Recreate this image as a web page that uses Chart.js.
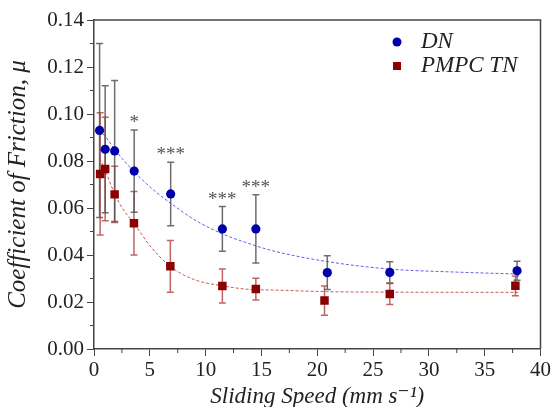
<!DOCTYPE html>
<html>
<head>
<meta charset="utf-8">
<script src="https://cdn.jsdelivr.net/npm/chart.js@4.4.1/dist/chart.umd.min.js"></script>
<style>
	html, body { margin: 0; padding: 0; background: #fff; }
	canvas { display: block; }
</style>
</head>
<body>
<canvas id="frictionChart" width="553" height="407"></canvas>
<script>
// measured points
const dnSpeed = [0.5, 1.0, 1.85, 3.6, 6.87, 11.5, 14.5, 20.9, 26.5, 37.9];
const dnMu = [0.093, 0.085, 0.0843, 0.0757, 0.066, 0.0511, 0.0511, 0.0325, 0.0326, 0.0333];
const dnErr = [0.037, 0.027, 0.03, 0.0175, 0.0135, 0.0095, 0.0145, 0.0072, 0.0045, 0.004];
const dnSig = ["", "", "", "*", "***", "***", "***", "", "", ""];

const tnSpeed = [0.55, 1.0, 1.85, 3.58, 6.84, 11.5, 14.5, 20.65, 26.5, 37.75];
const tnMu = [0.0745, 0.0766, 0.0658, 0.0535, 0.0352, 0.0268, 0.0255, 0.0206, 0.0234, 0.0269];
const tnErr = [0.026, 0.022, 0.012, 0.0135, 0.011, 0.0072, 0.0046, 0.0062, 0.0045, 0.0042];

// fitted curves
const dnFitSpeed = [0.5, 1, 1.85, 2.9, 4, 5.5, 6.87, 9, 11.5, 13.8, 16, 20.9, 26.5, 32, 38];
const dnFitMu = [0.093, 0.0905, 0.085, 0.079, 0.0735, 0.067, 0.062, 0.055, 0.049, 0.045, 0.0418, 0.0372, 0.034, 0.0328, 0.0319];
const tnFitSpeed = [0.5, 1, 1.85, 2.6, 3.58, 5, 6.87, 9, 11.5, 13.8, 16, 20.9, 26.5, 38];
const tnFitMu = [0.081, 0.076, 0.066, 0.0595, 0.0535, 0.044, 0.035, 0.0295, 0.0269, 0.0254, 0.0251, 0.0244, 0.0242, 0.0241];

const xTicks = [0, 5, 10, 15, 20, 25, 30, 35, 40];
const yTicks = [0, 0.02, 0.04, 0.06, 0.08, 0.1, 0.12, 0.14];

const serif = "'Liberation Serif', 'DejaVu Serif', serif";
const axisCol = "#444";

function toPoints(xs, ys) {
	return xs.map((x, i) => ({ x: x, y: ys[i] }));
}

function isMajor(v, list) {
	return list.some((t) => Math.abs(t - v) < 1e-9);
}

// error bars, significance stars, frame, minor ticks, legend
const extras = {
	id: "extras",
	beforeDatasetsDraw(chart) {
		const { ctx, scales } = chart;
		const bars = [
			{ xs: tnSpeed, ys: tnMu, es: tnErr, col: "rgba(170,50,50,0.75)" },
			{ xs: dnSpeed, ys: dnMu, es: dnErr, col: "rgba(85,85,85,0.85)" },
		];
		ctx.save();
		ctx.lineWidth = 1.5;
		bars.forEach((b) => {
			ctx.strokeStyle = b.col;
			b.xs.forEach((x, i) => {
				const px = scales.x.getPixelForValue(x);
				const top = scales.y.getPixelForValue(b.ys[i] + b.es[i]);
				const bot = scales.y.getPixelForValue(b.ys[i] - b.es[i]);
				ctx.beginPath();
				ctx.moveTo(px, top);
				ctx.lineTo(px, bot);
				ctx.moveTo(px - 3.5, top);
				ctx.lineTo(px + 3.5, top);
				ctx.moveTo(px - 3.5, bot);
				ctx.lineTo(px + 3.5, bot);
				ctx.stroke();
			});
		});
		ctx.restore();
	},
	afterDraw(chart) {
		const { ctx, scales, chartArea } = chart;
		ctx.save();
		// stars
		ctx.fillStyle = "#555";
		ctx.font = "19px " + serif;
		ctx.textAlign = "center";
		ctx.textBaseline = "middle";
		dnSig.forEach((s, i) => {
			if (!s) return;
			const px = scales.x.getPixelForValue(dnSpeed[i]);
			const py = scales.y.getPixelForValue(dnMu[i] + dnErr[i]);
			ctx.fillText(s, px, py - 7);
		});
		// frame top/right
		ctx.strokeStyle = axisCol;
		ctx.lineWidth = 1.5;
		ctx.beginPath();
		ctx.moveTo(chartArea.left, chartArea.top);
		ctx.lineTo(chartArea.right, chartArea.top);
		ctx.lineTo(chartArea.right, chartArea.bottom);
		ctx.stroke();
		// minor ticks
		ctx.lineWidth = 1;
		scales.x.ticks.forEach((t) => {
			if (isMajor(t.value, xTicks)) return;
			const px = scales.x.getPixelForValue(t.value);
			ctx.beginPath();
			ctx.moveTo(px, chartArea.bottom);
			ctx.lineTo(px, chartArea.bottom + 4);
			ctx.stroke();
		});
		scales.y.ticks.forEach((t) => {
			if (isMajor(t.value, yTicks)) return;
			const py = scales.y.getPixelForValue(t.value);
			ctx.beginPath();
			ctx.moveTo(chartArea.left, py);
			ctx.lineTo(chartArea.left - 4, py);
			ctx.stroke();
		});
		// legend
		ctx.fillStyle = "#0000aa";
		ctx.beginPath();
		ctx.arc(397, 42, 4.5, 0, Math.PI * 2);
		ctx.fill();
		ctx.fillStyle = "#8b0000";
		ctx.fillRect(393, 62, 8, 8);
		ctx.fillStyle = "#222";
		ctx.font = "italic 23px " + serif;
		ctx.textAlign = "left";
		ctx.fillText("DN", 421, 42);
		ctx.fillText("PMPC TN", 421, 66);
		ctx.restore();
	},
};

const ctx = document.getElementById("frictionChart");
const config = {
	type: "scatter",
	data: {
		datasets: [
			{
				label: "DN",
				data: toPoints(dnSpeed, dnMu),
				backgroundColor: "#0000aa",
				borderColor: "#0000aa",
				pointStyle: "circle",
				pointRadius: 4.6,
				borderWidth: 0,
				order: 0,
			},
			{
				label: "PMPC TN",
				data: toPoints(tnSpeed, tnMu),
				backgroundColor: "#8b0000",
				borderColor: "#8b0000",
				pointStyle: "rect",
				pointRadius: 6,
				borderWidth: 0,
				order: 1,
			},
			{
				label: "DN fit",
				data: toPoints(dnFitSpeed, dnFitMu),
				showLine: true,
				borderColor: "rgba(70,70,230,0.85)",
				borderWidth: 1,
				borderDash: [3, 2],
				pointRadius: 0,
				cubicInterpolationMode: "monotone",
				order: 3,
			},
			{
				label: "PMPC TN fit",
				data: toPoints(tnFitSpeed, tnFitMu),
				showLine: true,
				borderColor: "rgba(190,60,60,0.85)",
				borderWidth: 1,
				borderDash: [3, 2],
				pointRadius: 0,
				cubicInterpolationMode: "monotone",
				order: 3,
			},
		],
	},
	options: {
		responsive: false,
		animation: false,
		devicePixelRatio: 1,
		layout: { padding: { top: 20, right: 10, left: 0, bottom: 0 } },
		plugins: {
			legend: { display: false },
			tooltip: { enabled: false },
		},
		scales: {
			x: {
				type: "linear",
				min: 0,
				max: 40,
				afterFit: (s) => { s.height = 58; },
				grid: {
					drawOnChartArea: false,
					tickLength: 7,
					tickColor: (c) => (isMajor(c.tick.value, xTicks) ? axisCol : "rgba(0,0,0,0)"),
				},
				border: { color: axisCol, width: 1.5 },
				ticks: {
					stepSize: 2.5,
					maxRotation: 0,
					autoSkip: false,
					padding: 2,
					color: "#222",
					font: { family: serif, size: 21 },
					callback: (v) => (isMajor(v, xTicks) ? String(v) : ""),
				},
				title: {
					display: true,
					text: "Sliding Speed (mm s\u207B\u00B9)",
					color: "#222",
					font: { family: serif, size: 23, style: "italic" },
					padding: { top: 0, bottom: -4 },
				},
			},
			y: {
				type: "linear",
				min: 0,
				max: 0.14,
				afterFit: (s) => { s.width = 94; },
				grid: {
					drawOnChartArea: false,
					tickLength: 7,
					tickColor: (c) => (isMajor(c.tick.value, yTicks) ? axisCol : "rgba(0,0,0,0)"),
				},
				border: { color: axisCol, width: 1.5 },
				ticks: {
					stepSize: 0.01,
					autoSkip: false,
					padding: 3,
					color: "#222",
					font: { family: serif, size: 21 },
					callback: (v) => (isMajor(v, yTicks) ? v.toFixed(2) : ""),
				},
				title: {
					display: true,
					text: "Coefficient of Friction, \u03BC",
					color: "#222",
					font: { family: serif, size: 25, style: "italic" },
					padding: { top: 3, bottom: 0 },
				},
			},
		},
	},
	plugins: [extras],
};
const chart = new Chart(ctx, config);
</script>
</body>
</html>
